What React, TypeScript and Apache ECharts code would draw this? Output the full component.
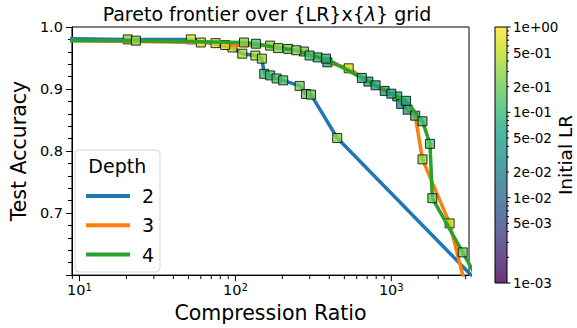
import React, { useEffect, useRef } from 'react';
import * as echarts from 'echarts';

const FONT = 'DejaVu Sans';

const depthNames = ['2', '3', '4'];
const depthColors = ['#1f77b4', '#ff7f0e', '#2ca02c'];

// Depth 2 frontier
const d2Ratio = [5, 20.4, 51.8, 95.7, 110.7, 134.4, 147.9, 153.1, 167.1, 183.8, 202.6, 258.4, 284, 305.5, 449.8, 5000];
const d2Acc = [0.9815, 0.98, 0.98, 0.967, 0.957, 0.954, 0.949, 0.9245, 0.922, 0.917, 0.914, 0.905, 0.892, 0.891, 0.821, 0.552];
const d2LR = [0.3, 0.3, 0.7, 0.6, 0.4, 0.4, 0.35, 0.12, 0.12, 0.15, 0.15, 0.25, 0.2, 0.2, 0.3, 0.3];

// Depth 3 frontier
const d3Ratio = [5, 60, 74.6, 86, 167, 218, 275, 337, 389, 533, 713, 907, 1092, 1156, 1274, 1423, 1585, 2365, 3436];
const d3Acc = [0.979, 0.975, 0.974, 0.971, 0.97, 0.9647, 0.9605, 0.951, 0.943, 0.9334, 0.912, 0.897, 0.888, 0.876, 0.8667, 0.857, 0.7866, 0.6834, 0.523];
const d3LR = [0.5, 0.6, 0.6, 0.6, 0.35, 0.2, 0.25, 0.1, 0.06, 0.6, 0.06, 0.05, 0.06, 0.04, 0.05, 0.1, 0.3, 0.5, 0.5];

// Depth 4 frontier
const d4Ratio = [5, 23, 113.5, 135.5, 188, 246, 299, 381, 647, 793, 1000, 1244, 1585, 1770, 1833, 2871, 3678];
const d4Acc = [0.978, 0.978, 0.975, 0.973, 0.966, 0.9625, 0.954, 0.949, 0.918, 0.906, 0.8925, 0.881, 0.848, 0.8116, 0.724, 0.6366, 0.5878];
const d4LR = [0.3, 0.3, 0.3, 0.15, 0.3, 0.25, 0.12, 0.07, 0.08, 0.05, 0.05, 0.06, 0.12, 0.15, 0.2, 0.2, 0.2];

const ratios = [d2Ratio, d3Ratio, d4Ratio];
const accs = [d2Acc, d3Acc, d4Acc];
const lrs = [d2LR, d3LR, d4LR];

// Axis ranges / ticks
const X_MIN = 8.95;
const X_MAX = 3150;
const Y_MIN = 0.6;
const Y_MAX = 1.0;
const xMajorTicks = [10, 100, 1000];
const xMinorTicks = [9, 20, 30, 40, 50, 60, 70, 80, 90, 200, 300, 400, 500, 600, 700, 800, 900, 2000, 3000];

// Colorbar (log LR)
const LR_MIN = 0.001;
const LR_MAX = 1;
const cbLabelValues = [1, 0.5, 0.2, 0.1, 0.05, 0.02, 0.01, 0.005, 0.001];
const cbLabels = ['1e+00', '5e-01', '2e-01', '1e-01', '5e-02', '2e-02', '1e-02', '5e-03', '1e-03'];
const cbMajor = [1, 0.1, 0.01, 0.001];
const cbMinorValues = [0.9, 0.8, 0.7, 0.6, 0.4, 0.3, 0.09, 0.08, 0.07, 0.06, 0.04, 0.03, 0.009, 0.008, 0.007, 0.006, 0.004, 0.003, 0.002];

const VIRIDIS = ['#440154', '#482475', '#414487', '#355f8d', '#2a788e', '#21918c', '#22a884', '#44bf70', '#7ad151', '#bddf26', '#fde725'];

function hexToRgb(h: string) {
  return [parseInt(h.slice(1, 3), 16), parseInt(h.slice(3, 5), 16), parseInt(h.slice(5, 7), 16)];
}

function viridisT(t: number, alpha = 1) {
  const tt = Math.max(0, Math.min(1, t)) * 10;
  const i = Math.min(9, Math.floor(tt));
  const f = tt - i;
  const a = hexToRgb(VIRIDIS[i]);
  const b = hexToRgb(VIRIDIS[i + 1]);
  const c = a.map((v, k) => Math.round(v + (b[k] - v) * f));
  return `rgba(${c[0]},${c[1]},${c[2]},${alpha})`;
}

function lrColor(lr: number) {
  const t = (Math.log10(lr) - Math.log10(LR_MIN)) / (Math.log10(LR_MAX) - Math.log10(LR_MIN));
  return viridisT(t, 1);
}

export default function App() {
  const ref = useRef<HTMLDivElement>(null);

  useEffect(() => {
    document.body.style.margin = '0';
    if (!ref.current) return;
    const chart = echarts.init(ref.current, undefined, { renderer: 'svg' });

    const lineSeries = depthNames.map((name, d) => ({
      type: 'line',
      name,
      xAxisIndex: 0,
      yAxisIndex: 0,
      data: ratios[d].map((x, i) => [x, accs[d][i]]),
      showSymbol: false,
      symbol: 'none',
      color: depthColors[d],
      lineStyle: { width: 3.5, color: depthColors[d] },
      clip: true,
      silent: true,
      z: 2 + d * 2,
    }));

    const scatterSeries = depthNames.map((name, d) => ({
      type: 'scatter',
      name: 'pts' + name,
      xAxisIndex: 0,
      yAxisIndex: 0,
      symbol: 'rect',
      symbolSize: 9,
      clip: true,
      silent: true,
      z: 3 + d * 2,
      itemStyle: { borderColor: '#000', borderWidth: 1, opacity: 0.8 },
      data: ratios[d].map((x, i) => ({
        value: [x, accs[d][i]],
        itemStyle: { color: lrColor(lrs[d][i]) },
      })),
    }));

    const xTickData = [
      ...xMajorTicks.map((v) => [v, 1]),
      ...xMinorTicks.map((v) => [v, 0]),
    ];

    const xTickSeries = {
      type: 'custom',
      name: 'xticks',
      xAxisIndex: 0,
      yAxisIndex: 0,
      silent: true,
      clip: false,
      z: 10,
      data: xTickData,
      renderItem: (params: any, api: any) => {
        const v = api.value(0);
        const major = xTickData[params.dataIndex][1] === 1;
        const p = api.coord([v, Y_MIN]);
        const len = major ? 6 : 4;
        return {
          type: 'line',
          shape: { x1: p[0], y1: p[1], x2: p[0], y2: p[1] + len },
          style: { stroke: '#000', lineWidth: 1 },
        };
      },
    };

    const cbTickData = [
      ...cbLabelValues.map((v, i) => [0.5, v, i]),
      ...cbMinorValues.map((v) => [0.5, v, -1]),
    ];

    const cbTickSeries = {
      type: 'custom',
      name: 'cbticks',
      xAxisIndex: 1,
      yAxisIndex: 1,
      silent: true,
      clip: false,
      z: 10,
      data: cbTickData,
      renderItem: (params: any, api: any) => {
        const item = cbTickData[params.dataIndex];
        const v = item[1];
        const li = item[2];
        const p = api.coord([1, v]);
        const major = cbMajor.indexOf(v) >= 0;
        const len = major ? 3.5 : 2;
        const children: any[] = [
          {
            type: 'line',
            shape: { x1: p[0], y1: p[1], x2: p[0] + len, y2: p[1] },
            style: { stroke: '#000', lineWidth: 1 },
          },
        ];
        if (li >= 0) {
          children.push({
            type: 'text',
            x: p[0] + 6,
            y: p[1],
            style: {
              text: cbLabels[li],
              fontSize: 13.5,
              fontFamily: FONT,
              fill: '#000',
              align: 'left',
              verticalAlign: 'middle',
            },
          });
        }
        return { type: 'group', children };
      },
    };

    const gradStops: any[] = [];
    for (let k = 0; k <= 20; k++) {
      const off = k / 20;
      gradStops.push({ offset: off, color: viridisT(1 - off, 0.8) });
    }

    const option: any = {
      animation: false,
      textStyle: { fontFamily: FONT },
      grid: [
        {
          left: 65,
          top: 27,
          width: 404,
          height: 256,
          show: true,
          borderColor: '#000',
          borderWidth: 1,
          backgroundColor: 'transparent',
          containLabel: false,
        },
        {
          left: 495,
          top: 27,
          width: 12,
          height: 256,
          show: true,
          borderColor: '#000',
          borderWidth: 1,
          backgroundColor: new echarts.graphic.LinearGradient(0, 0, 0, 1, gradStops),
          containLabel: false,
        },
      ],
      xAxis: [
        {
          type: 'log',
          gridIndex: 0,
          logBase: 10,
          min: X_MIN,
          max: X_MAX,
          axisLine: { show: true, lineStyle: { color: '#000', width: 1 } },
          axisTick: { show: false },
          splitLine: { show: false },
          minorTick: { show: false },
          axisLabel: {
            show: true,
            showMinLabel: false,
            showMaxLabel: false,
            margin: 7,
            fontSize: 14.5,
            color: '#000',
            fontFamily: FONT,
            formatter: (v: number) => {
              const e = Math.round(Math.log10(v));
              if (Math.abs(v - Math.pow(10, e)) > 1e-6 * v) return '';
              return '10{sup|' + e + '}';
            },
            rich: {
              sup: { fontSize: 10, fontFamily: FONT, color: '#000', verticalAlign: 'top' },
            },
          },
          name: 'Compression Ratio',
          nameLocation: 'middle',
          nameGap: 26,
          nameTextStyle: { fontSize: 20.5, color: '#000', fontFamily: FONT },
        },
        {
          type: 'value',
          gridIndex: 1,
          min: 0,
          max: 1,
          show: false,
        },
      ],
      yAxis: [
        {
          type: 'value',
          gridIndex: 0,
          min: Y_MIN,
          max: Y_MAX,
          interval: 0.1,
          axisLine: { show: true, lineStyle: { color: '#000', width: 1 } },
          axisTick: { show: true, length: 6, lineStyle: { color: '#000', width: 1 } },
          minorTick: { show: true, splitNumber: 5, length: 4, lineStyle: { color: '#000', width: 1 } },
          splitLine: { show: false },
          minorSplitLine: { show: false },
          axisLabel: {
            formatter: (v: number) => v.toFixed(1),
            fontSize: 14.5,
            color: '#000',
            fontFamily: FONT,
            margin: 9,
            showMinLabel: false,
          },
          name: 'Test Accuracy',
          nameLocation: 'middle',
          nameRotate: 90,
          nameGap: 34,
          nameTextStyle: { fontSize: 20.5, color: '#000', fontFamily: FONT },
        },
        {
          type: 'log',
          gridIndex: 1,
          logBase: 10,
          min: LR_MIN,
          max: LR_MAX,
          show: false,
        },
      ],
      legend: {
        data: depthNames,
        orient: 'vertical',
        left: 81,
        top: 181,
        itemWidth: 44,
        itemHeight: 4,
        itemGap: 9.3,
        icon: 'rect',
        selectedMode: false,
        textStyle: { fontSize: 19, color: '#000', fontFamily: FONT, lineHeight: 20, padding: [0, 0, 0, 7] },
      },
      graphic: [
        {
          type: 'text',
          x: 267,
          y: 14,
          style: {
            text: 'Pareto frontier over {LR}x{{it|λ}} grid',
            fontSize: 19,
            fontFamily: FONT,
            fill: '#000',
            align: 'center',
            verticalAlign: 'middle',
            rich: { it: { fontStyle: 'italic', fontSize: 19, fontFamily: FONT, fill: '#000' } },
          },
        },
        {
          type: 'rect',
          shape: { x: 75, y: 150, width: 85, height: 122, r: 4 },
          style: { fill: 'rgba(255,255,255,0.8)', stroke: '#d5d5d5', lineWidth: 1 },
          z: 1,
        },
        {
          type: 'text',
          x: 117.3,
          y: 166,
          style: {
            text: 'Depth',
            fontSize: 19,
            fontFamily: FONT,
            fill: '#000',
            align: 'center',
            verticalAlign: 'middle',
          },
          z: 2,
        },
        {
          type: 'text',
          x: 565,
          y: 155,
          rotation: Math.PI / 2,
          style: {
            text: 'Initial LR',
            fontSize: 18.5,
            fontFamily: FONT,
            fill: '#000',
            align: 'center',
            verticalAlign: 'middle',
          },
        },
      ],
      series: [
        lineSeries[0],
        scatterSeries[0],
        lineSeries[1],
        scatterSeries[1],
        lineSeries[2],
        scatterSeries[2],
        xTickSeries,
        cbTickSeries,
      ],
    };

    chart.setOption(option);
    return () => {
      chart.dispose();
    };
  }, []);

  return <div ref={ref} style={{ width: 577, height: 328 }} />;
}
